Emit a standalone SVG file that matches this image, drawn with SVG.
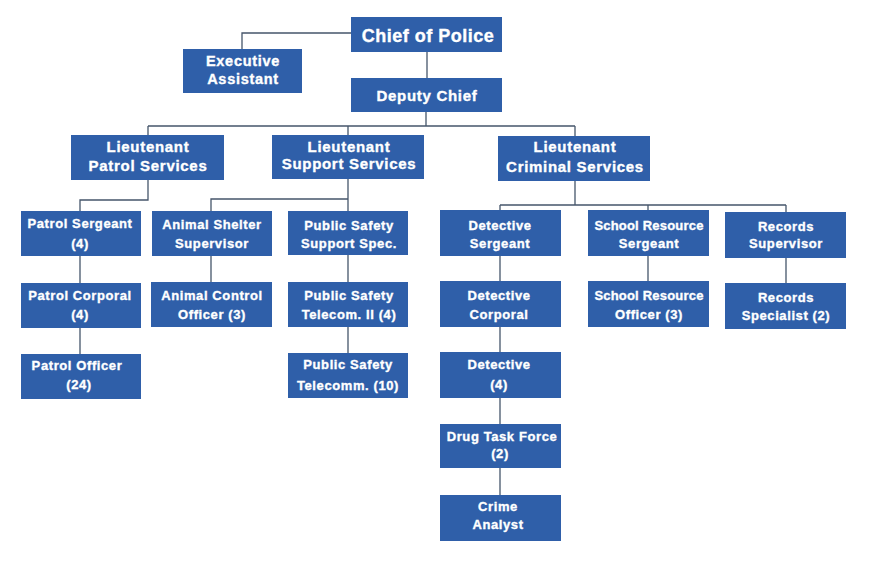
<svg xmlns="http://www.w3.org/2000/svg" width="869" height="566" viewBox="0 0 869 566">
<style>
  .box { fill: #2F5FA9; }
  .t { font-family: "Liberation Sans", Arial, sans-serif; font-weight: bold; fill: #ffffff; stroke: #ffffff; stroke-width: 0.35; text-anchor: middle; font-size: 13px; letter-spacing: 0.6px; }
  .tight { letter-spacing: 0.2px; }
  .lg { font-size: 15px; letter-spacing: 0.7px; }
  .xl { font-size: 18px; letter-spacing: 0.5px; }
  .ex { font-size: 14.5px; letter-spacing: 0.7px; }
  .c { fill: none; stroke: #46566b; stroke-width: 1.3; }
</style>
<rect width="869" height="566" fill="#ffffff"/>
<g id="connectors" class="c">
  <path d="M351,33 H242 V49"/>
  <path d="M427,52 V78"/>
  <path d="M426,112 V126 M148,126 H575 M148,126 V135 M348,126 V135 M575,126 V136"/>
  <path d="M148,180 V200 H80 V211 M80,256 V283 M80,328 V354"/>
  <path d="M348,179 V199 H211 V211 M348,199 V211 M211,256 V282 M348,255 V282 M348,327 V353"/>
  <path d="M575,181 V205 M500,205 H786 M500,205 V210 M648,205 V210 M786,205 V212"/>
  <path d="M500,256 V281 M500,327 V352 M500,398 V424 M500,468 V495 M648,256 V281 M786,258 V283"/>
</g>
<g id="chief"><rect class="box" x="351" y="17" width="151" height="35"/><text class="t xl" x="428" y="42">Chief of Police</text></g>
<g id="exec"><rect class="box" x="183" y="49" width="119" height="44"/><text class="t ex" x="243" y="66">Executive</text><text class="t ex" x="243" y="84">Assistant</text></g>
<g id="deputy"><rect class="box" x="351" y="78" width="151" height="34"/><text class="t lg" x="427" y="101">Deputy Chief</text></g>
<g id="lt-patrol"><rect class="box" x="71" y="135" width="153" height="45"/><text class="t lg" x="148" y="152">Lieutenant</text><text class="t lg" x="148" y="171">Patrol Services</text></g>
<g id="lt-support"><rect class="box" x="272" y="135" width="152" height="44"/><text class="t lg" x="349" y="152">Lieutenant</text><text class="t lg" x="349" y="169">Support Services</text></g>
<g id="lt-criminal"><rect class="box" x="498" y="136" width="152" height="45"/><text class="t lg" x="575" y="152">Lieutenant</text><text class="t lg" x="575" y="172">Criminal Services</text></g>
<g id="patrol-sergeant"><rect class="box" x="21" y="211" width="120" height="45"/><text class="t" x="80" y="228">Patrol Sergeant</text><text class="t" x="80" y="248">(4)</text></g>
<g id="animal-shelter"><rect class="box" x="152" y="211" width="120" height="45"/><text class="t" x="212" y="229">Animal Shelter</text><text class="t" x="212" y="248">Supervisor</text></g>
<g id="ps-support"><rect class="box" x="288" y="211" width="120" height="44"/><text class="t" x="349" y="230">Public Safety</text><text class="t" x="349" y="248">Support Spec.</text></g>
<g id="patrol-corporal"><rect class="box" x="21" y="283" width="120" height="45"/><text class="t" x="80" y="300">Patrol Corporal</text><text class="t" x="80" y="319">(4)</text></g>
<g id="animal-control"><rect class="box" x="151" y="282" width="121" height="45"/><text class="t" x="212" y="300">Animal Control</text><text class="t" x="212" y="319">Officer (3)</text></g>
<g id="ps-telecom2"><rect class="box" x="288" y="282" width="120" height="45"/><text class="t" x="349" y="300">Public Safety</text><text class="t" x="349" y="319">Telecom. II (4)</text></g>
<g id="patrol-officer"><rect class="box" x="21" y="354" width="120" height="45"/><text class="t" x="77" y="370">Patrol Officer</text><text class="t" x="79" y="389">(24)</text></g>
<g id="ps-telecomm"><rect class="box" x="288" y="353" width="120" height="45"/><text class="t" x="348" y="369">Public Safety</text><text class="t" x="348" y="390">Telecomm. (10)</text></g>
<g id="det-sergeant"><rect class="box" x="440" y="210" width="121" height="46"/><text class="t" x="500" y="230">Detective</text><text class="t" x="500" y="248">Sergeant</text></g>
<g id="sro-sergeant"><rect class="box" x="588" y="210" width="121" height="46"/><text class="t tight" x="649" y="230">School Resource</text><text class="t" x="649" y="248">Sergeant</text></g>
<g id="records-supervisor"><rect class="box" x="725" y="212" width="121" height="46"/><text class="t" x="786" y="231">Records</text><text class="t" x="786" y="248">Supervisor</text></g>
<g id="det-corporal"><rect class="box" x="440" y="281" width="121" height="46"/><text class="t" x="499" y="300">Detective</text><text class="t" x="499" y="319">Corporal</text></g>
<g id="sro"><rect class="box" x="588" y="281" width="121" height="46"/><text class="t tight" x="649" y="300">School Resource</text><text class="t" x="649" y="319">Officer (3)</text></g>
<g id="records-specialist"><rect class="box" x="725" y="283" width="121" height="46"/><text class="t" x="786" y="302">Records</text><text class="t" x="786" y="320">Specialist (2)</text></g>
<g id="detective"><rect class="box" x="440" y="352" width="121" height="46"/><text class="t" x="499" y="369">Detective</text><text class="t" x="499" y="389">(4)</text></g>
<g id="drug-task-force"><rect class="box" x="440" y="424" width="121" height="44"/><text class="t" x="502" y="441">Drug Task Force</text><text class="t" x="500" y="458">(2)</text></g>
<g id="crime-analyst"><rect class="box" x="440" y="495" width="121" height="46"/><text class="t" x="498" y="511">Crime</text><text class="t" x="498" y="529">Analyst</text></g>
</svg>
